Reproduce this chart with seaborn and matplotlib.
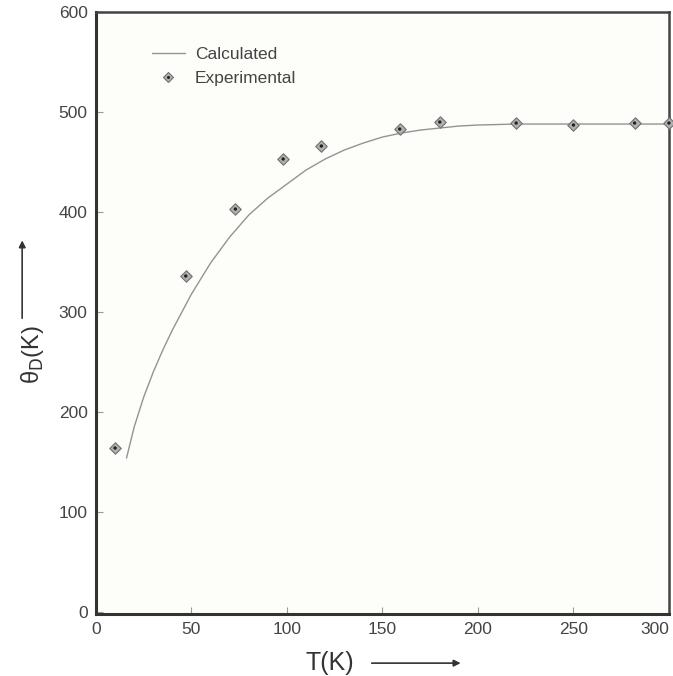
"""Debye temperature vs T: calculated curve and experimental points"""
import matplotlib
matplotlib.use("Agg")
import matplotlib.pyplot as plt
import pandas as pd
import seaborn as sns
from matplotlib.lines import Line2D

# calculated curve
calc_T = [16, 20, 25, 30, 35, 40, 50, 60, 70, 80, 90, 100, 110, 120, 130,
          140, 150, 160, 170, 180, 190, 200, 220, 250, 300]
calc_theta = [154, 185, 215, 240, 262, 282, 318, 349, 375, 397, 414, 428,
              442, 453, 462, 469, 475, 479, 482, 484, 486, 487, 488, 488, 488]

# experimental points
exp_T = [10, 47, 73, 98, 118, 159, 180, 220, 250, 282, 300]
exp_theta = [164, 336, 403, 453, 466, 483, 490, 489, 487, 489, 489]

x_ticks = [0, 50, 100, 150, 200, 250, 300]
y_ticks = [0, 100, 200, 300, 400, 500, 600]

sns.set_style("ticks")
plt.rcParams["font.family"] = ["Liberation Sans", "DejaVu Sans"]

calc = pd.DataFrame({"T": calc_T, "theta": calc_theta})
exp = pd.DataFrame({"T": exp_T, "theta": exp_theta})

fig = plt.figure(figsize=(6.73, 6.76), dpi=100, facecolor="white")
ax = fig.add_axes([0.1426, 0.0917, 0.8514, 0.8905])
ax.set_facecolor("#fdfdf9")

sns.lineplot(data=calc, x="T", y="theta", ax=ax, color="#939393", lw=1.0,
             legend=False)
sns.scatterplot(data=exp, x="T", y="theta", ax=ax, marker="D", s=34,
                color="#b0b0b0", edgecolor="#707070", linewidth=0.8,
                legend=False, zorder=3, clip_on=False)
sns.scatterplot(data=exp, x="T", y="theta", ax=ax, marker="o", s=6,
                color="#222222", edgecolor="none", legend=False, zorder=4,
                clip_on=False)

ax.set_xlim(1, 300)
ax.set_ylim(-2, 600)
ax.set_xticks(x_ticks)
ax.set_yticks(y_ticks)
ax.tick_params(direction="in", length=5, width=0.8, color="#999999",
               labelsize=12.5, labelcolor="#444444", pad=6)
ax.get_xticklabels()[-1].set_horizontalalignment("right")
ax.set_xlabel("")
ax.set_ylabel("")

for side in ["left", "bottom"]:
    ax.spines[side].set_linewidth(2.2)
    ax.spines[side].set_color("#333333")
for side in ["top", "right"]:
    ax.spines[side].set_visible(True)
    ax.spines[side].set_linewidth(1.8)
    ax.spines[side].set_color("#444444")

# legend, no frame
h_line = Line2D([], [], color="#939393", lw=1.0)
h_pt = (Line2D([], [], ls="none", marker="D", ms=5.5, mfc="#b0b0b0",
               mec="#707070", mew=0.8),
        Line2D([], [], ls="none", marker="o", ms=2.2, mfc="#222222",
               mec="none"))
ax.legend([h_line, h_pt], ["Calculated", "Experimental"], loc="upper left",
          bbox_to_anchor=(0.07, 0.968), frameon=False, fontsize=12.5,
          handlelength=1.9, handletextpad=0.6, labelcolor="#444444",
          labelspacing=0.5)

# axis titles with arrows
fig.text(0.49, 0.019, "T(K)", fontsize=18, color="#333333", ha="center",
         va="center")
fig.add_artist(plt.annotate("", xy=(0.688, 0.019), xytext=(0.548, 0.019),
                            xycoords="figure fraction",
                            arrowprops=dict(arrowstyle="-|>", color="#333333",
                                            lw=0.9, mutation_scale=10)))
fig.text(0.048, 0.475, "θ$_{\\mathrm{D}}$(K)", fontsize=17, color="#333333",
         rotation=90, ha="center", va="center")
fig.add_artist(plt.annotate("", xy=(0.033, 0.648), xytext=(0.033, 0.525),
                            xycoords="figure fraction",
                            arrowprops=dict(arrowstyle="-|>", color="#333333",
                                            lw=0.9, mutation_scale=10)))

fig.savefig("out.png", dpi=100, facecolor="white")
